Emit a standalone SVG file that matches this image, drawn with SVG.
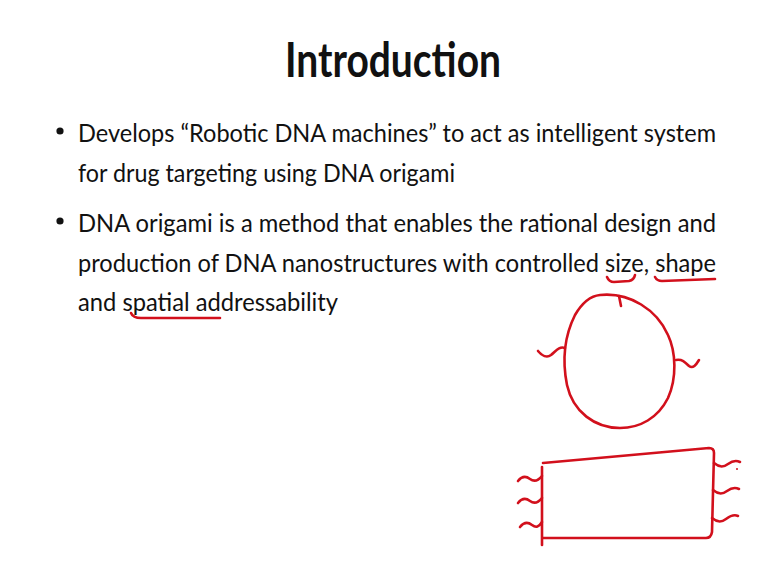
<svg xmlns="http://www.w3.org/2000/svg" width="767" height="579" viewBox="0 0 767 579">
<style>
.t{font-family:Lato,"Open Sans","Liberation Sans",sans-serif;font-size:25px;fill:#111}
.h{font-family:Lato,"Open Sans","Liberation Sans",sans-serif;font-size:48px;font-weight:bold;fill:#111}
.ink{fill:none;stroke:#d2101c;stroke-width:2.6;stroke-linecap:round;stroke-linejoin:round}
</style>
<rect width="767" height="579" fill="#ffffff"/>
<g id="title"><text class="h" x="285" y="77" textLength="216" lengthAdjust="spacingAndGlyphs">Introduction</text></g>
<g id="bullets">
<circle cx="60" cy="131" r="3.6" fill="#111"/>
<text class="t" x="78" y="142" textLength="638" lengthAdjust="spacingAndGlyphs">Develops “Robotic DNA machines” to act as intelligent system</text>
<text class="t" x="78" y="182" textLength="377" lengthAdjust="spacingAndGlyphs">for drug targeting using DNA origami</text>
<circle cx="60" cy="221" r="3.6" fill="#111"/>
<text class="t" x="78" y="232" textLength="638" lengthAdjust="spacingAndGlyphs">DNA origami is a method that enables the rational design and</text>
<text class="t" x="78" y="272" textLength="638" lengthAdjust="spacingAndGlyphs">production of DNA nanostructures with controlled size, shape</text>
<text class="t" x="78" y="311" textLength="260" lengthAdjust="spacingAndGlyphs">and spatial addressability</text>
</g>
<g id="annotations">
<path class="ink" d="M607,277 Q609,282 614,282 L629,281 Q634,280 635,275"/>
<path class="ink" d="M655,277 Q657,281 662,281 Q690,280 715,279"/>
<path class="ink" d="M131,313 Q133,318 141,318 L220,318"/>
</g>
<g id="circle-node">
<path class="ink" d="M600,295 C630,292 657,310 668,335 C676,352 677,378 668,398 C658,418 640,428 620,428 C595,428 573,412 567,385 C562,360 565,335 575,315 C582,303 590,296 600,295 Z"/>
<path class="ink" d="M619,296 L621,306"/>
<path class="ink" d="M538,351 C542,356 547,358 551,355 C556,351 559,346 565,348"/>
<path class="ink" d="M676,360 C682,359 685,362 689,366 C693,369 696,365 699,360"/>
</g>
<g id="rect-node">
<path class="ink" d="M543,463 L709,448 Q714,448 714,453 L712,532 Q711,538 706,538 L543,538"/>
<path class="ink" d="M542,467 L542,545"/>
<path class="ink" d="M518,481 C522,476 526,476 530,479 C534,482 538,481 542,476"/>
<path class="ink" d="M518,503 C522,498 526,498 530,501 C534,504 538,503 542,498"/>
<path class="ink" d="M520,527 C524,522 528,522 532,525 C536,528 539,527 542,522"/>
<path class="ink" d="M714,463 C720,468 724,467 728,464 C732,461 736,460 740,462"/>
<path class="ink" d="M713,490 C719,495 723,494 727,491 C731,488 735,487 739,489"/>
<path class="ink" d="M712,518 C718,523 722,522 726,519 C730,516 734,514 738,516"/>
<circle cx="737" cy="469" r="1" fill="#d2101c"/>
</g>
</svg>
